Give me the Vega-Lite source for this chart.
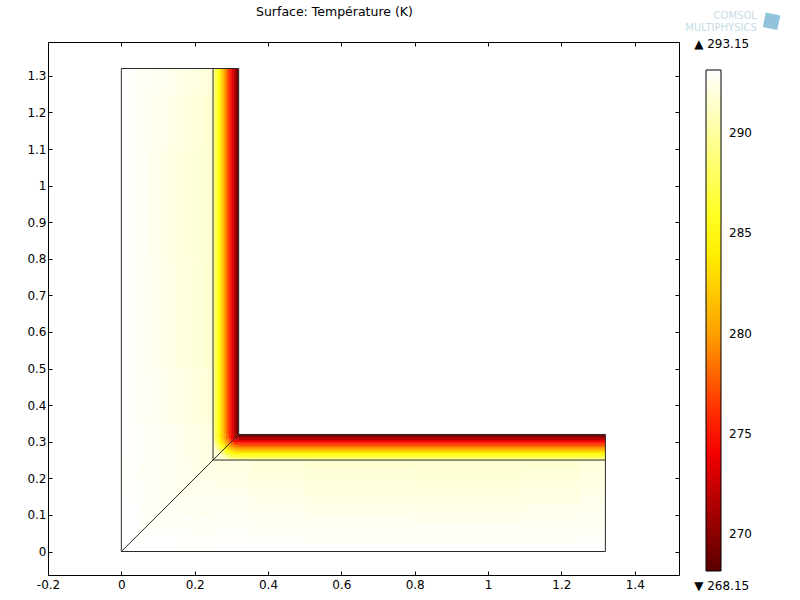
{
"$schema":"https://vega.github.io/schema/vega-lite/v6.json",
"width":631,"height":533,
"autosize":{"type":"none"},
"padding":{"left":48,"top":42,"right":121,"bottom":25},
"background":"white",
"config":{"view":{"stroke":null},"font":"DejaVu Sans","axis":{"grid":false}},
"title":{"text":"Surface: Température (K)","anchor":"start","frame":"group","dx":208,"offset":-7,"fontSize":12.5,"fontWeight":"normal","font":"DejaVu Sans","color":"black"},
"datasets":{
"cells":[
{"x":0,"x2":0.25,"y":0,"y2":1.32,"T":292.6},{"x":0.25,"x2":1.32,"y":0,"y2":0.25,"T":292.6},
{"x":0,"x2":0.05,"y":0,"y2":0.05,"T":293.07},{"x":0.05,"x2":0.1,"y":0,"y2":0.05,"T":293.07},{"x":0.1,"x2":0.15,"y":0,"y2":0.05,"T":293.07},{"x":0.15,"x2":0.2,"y":0,"y2":0.05,"T":293.06},{"x":0.2,"x2":0.25,"y":0,"y2":0.05,"T":293.05},
{"x":0,"x2":0.05,"y":0.05,"y2":0.1,"T":293.07},{"x":0.05,"x2":0.1,"y":0.05,"y2":0.1,"T":292.91},{"x":0.1,"x2":0.15,"y":0.05,"y2":0.1,"T":292.91},{"x":0.15,"x2":0.2,"y":0.05,"y2":0.1,"T":292.89},{"x":0.2,"x2":0.25,"y":0.05,"y2":0.1,"T":292.86},
{"x":0,"x2":0.05,"y":0.1,"y2":0.15,"T":293.07},{"x":0.05,"x2":0.1,"y":0.1,"y2":0.15,"T":292.91},{"x":0.1,"x2":0.15,"y":0.1,"y2":0.15,"T":292.75},{"x":0.15,"x2":0.2,"y":0.1,"y2":0.15,"T":292.71},{"x":0.2,"x2":0.25,"y":0.1,"y2":0.15,"T":292.67},
{"x":0,"x2":0.05,"y":0.15,"y2":0.2,"T":293.06},{"x":0.05,"x2":0.1,"y":0.15,"y2":0.2,"T":292.89},{"x":0.1,"x2":0.15,"y":0.15,"y2":0.2,"T":292.71},{"x":0.15,"x2":0.2,"y":0.15,"y2":0.2,"T":292.53},{"x":0.2,"x2":0.25,"y":0.15,"y2":0.2,"T":292.48},
{"x":0,"x2":0.05,"y":0.2,"y2":0.25,"T":293.05},{"x":0.05,"x2":0.1,"y":0.2,"y2":0.25,"T":292.86},{"x":0.1,"x2":0.15,"y":0.2,"y2":0.25,"T":292.67},{"x":0.15,"x2":0.2,"y":0.2,"y2":0.25,"T":292.48},{"x":0.2,"x2":0.25,"y":0.2,"y2":0.25,"T":292.29},

{"x":0,"x2":0.025,"y":0.25,"y2":0.35,"T":293.10},{"x":0.025,"x2":0.05,"y":0.25,"y2":0.35,"T":293.01},{"x":0.05,"x2":0.075,"y":0.25,"y2":0.35,"T":292.91},{"x":0.075,"x2":0.1,"y":0.25,"y2":0.35,"T":292.81},{"x":0.1,"x2":0.125,"y":0.25,"y2":0.35,"T":292.72},{"x":0.125,"x2":0.15,"y":0.25,"y2":0.35,"T":292.62},{"x":0.15,"x2":0.175,"y":0.25,"y2":0.35,"T":292.53},{"x":0.175,"x2":0.2,"y":0.25,"y2":0.35,"T":292.43},{"x":0.2,"x2":0.225,"y":0.25,"y2":0.35,"T":292.33},{"x":0.225,"x2":0.25,"y":0.25,"y2":0.35,"T":292.24},
{"x":0,"x2":0.025,"y":0.35,"y2":0.5,"T":293.09},{"x":0.025,"x2":0.05,"y":0.35,"y2":0.5,"T":292.96},{"x":0.05,"x2":0.075,"y":0.35,"y2":0.5,"T":292.83},{"x":0.075,"x2":0.1,"y":0.35,"y2":0.5,"T":292.70},{"x":0.1,"x2":0.125,"y":0.35,"y2":0.5,"T":292.57},{"x":0.125,"x2":0.15,"y":0.35,"y2":0.5,"T":292.45},{"x":0.15,"x2":0.175,"y":0.35,"y2":0.5,"T":292.32},{"x":0.175,"x2":0.2,"y":0.35,"y2":0.5,"T":292.19},{"x":0.2,"x2":0.225,"y":0.35,"y2":0.5,"T":292.06},{"x":0.225,"x2":0.25,"y":0.35,"y2":0.5,"T":291.93},
{"x":0,"x2":0.025,"y":0.5,"y2":0.8,"T":293.07},{"x":0.025,"x2":0.05,"y":0.5,"y2":0.8,"T":292.92},{"x":0.05,"x2":0.075,"y":0.5,"y2":0.8,"T":292.76},{"x":0.075,"x2":0.1,"y":0.5,"y2":0.8,"T":292.61},{"x":0.1,"x2":0.125,"y":0.5,"y2":0.8,"T":292.45},{"x":0.125,"x2":0.15,"y":0.5,"y2":0.8,"T":292.30},{"x":0.15,"x2":0.175,"y":0.5,"y2":0.8,"T":292.14},{"x":0.175,"x2":0.2,"y":0.5,"y2":0.8,"T":291.99},{"x":0.2,"x2":0.225,"y":0.5,"y2":0.8,"T":291.83},{"x":0.225,"x2":0.25,"y":0.5,"y2":0.8,"T":291.68},
{"x":0,"x2":0.025,"y":0.8,"y2":1.1,"T":293.07},{"x":0.025,"x2":0.05,"y":0.8,"y2":1.1,"T":292.91},{"x":0.05,"x2":0.075,"y":0.8,"y2":1.1,"T":292.75},{"x":0.075,"x2":0.1,"y":0.8,"y2":1.1,"T":292.59},{"x":0.1,"x2":0.125,"y":0.8,"y2":1.1,"T":292.43},{"x":0.125,"x2":0.15,"y":0.8,"y2":1.1,"T":292.27},{"x":0.15,"x2":0.175,"y":0.8,"y2":1.1,"T":292.11},{"x":0.175,"x2":0.2,"y":0.8,"y2":1.1,"T":291.95},{"x":0.2,"x2":0.225,"y":0.8,"y2":1.1,"T":291.79},{"x":0.225,"x2":0.25,"y":0.8,"y2":1.1,"T":291.63},
{"x":0,"x2":0.025,"y":1.1,"y2":1.25,"T":293.08},{"x":0.025,"x2":0.05,"y":1.1,"y2":1.25,"T":292.93},{"x":0.05,"x2":0.075,"y":1.1,"y2":1.25,"T":292.78},{"x":0.075,"x2":0.1,"y":1.1,"y2":1.25,"T":292.63},{"x":0.1,"x2":0.125,"y":1.1,"y2":1.25,"T":292.49},{"x":0.125,"x2":0.15,"y":1.1,"y2":1.25,"T":292.34},{"x":0.15,"x2":0.175,"y":1.1,"y2":1.25,"T":292.19},{"x":0.175,"x2":0.2,"y":1.1,"y2":1.25,"T":292.05},{"x":0.2,"x2":0.225,"y":1.1,"y2":1.25,"T":291.90},{"x":0.225,"x2":0.25,"y":1.1,"y2":1.25,"T":291.75},
{"x":0,"x2":0.025,"y":1.25,"y2":1.32,"T":293.09},{"x":0.025,"x2":0.05,"y":1.25,"y2":1.32,"T":292.97},{"x":0.05,"x2":0.075,"y":1.25,"y2":1.32,"T":292.85},{"x":0.075,"x2":0.1,"y":1.25,"y2":1.32,"T":292.73},{"x":0.1,"x2":0.125,"y":1.25,"y2":1.32,"T":292.61},{"x":0.125,"x2":0.15,"y":1.25,"y2":1.32,"T":292.49},{"x":0.15,"x2":0.175,"y":1.25,"y2":1.32,"T":292.37},{"x":0.175,"x2":0.2,"y":1.25,"y2":1.32,"T":292.25},{"x":0.2,"x2":0.225,"y":1.25,"y2":1.32,"T":292.13},{"x":0.225,"x2":0.25,"y":1.25,"y2":1.32,"T":292.01},

{"y":0,"y2":0.025,"x":0.25,"x2":0.35,"T":293.10},{"y":0.025,"y2":0.05,"x":0.25,"x2":0.35,"T":293.01},{"y":0.05,"y2":0.075,"x":0.25,"x2":0.35,"T":292.91},{"y":0.075,"y2":0.1,"x":0.25,"x2":0.35,"T":292.81},{"y":0.1,"y2":0.125,"x":0.25,"x2":0.35,"T":292.72},{"y":0.125,"y2":0.15,"x":0.25,"x2":0.35,"T":292.62},{"y":0.15,"y2":0.175,"x":0.25,"x2":0.35,"T":292.53},{"y":0.175,"y2":0.2,"x":0.25,"x2":0.35,"T":292.43},{"y":0.2,"y2":0.225,"x":0.25,"x2":0.35,"T":292.33},{"y":0.225,"y2":0.25,"x":0.25,"x2":0.35,"T":292.24},
{"y":0,"y2":0.025,"x":0.35,"x2":0.5,"T":293.09},{"y":0.025,"y2":0.05,"x":0.35,"x2":0.5,"T":292.96},{"y":0.05,"y2":0.075,"x":0.35,"x2":0.5,"T":292.83},{"y":0.075,"y2":0.1,"x":0.35,"x2":0.5,"T":292.70},{"y":0.1,"y2":0.125,"x":0.35,"x2":0.5,"T":292.57},{"y":0.125,"y2":0.15,"x":0.35,"x2":0.5,"T":292.45},{"y":0.15,"y2":0.175,"x":0.35,"x2":0.5,"T":292.32},{"y":0.175,"y2":0.2,"x":0.35,"x2":0.5,"T":292.19},{"y":0.2,"y2":0.225,"x":0.35,"x2":0.5,"T":292.06},{"y":0.225,"y2":0.25,"x":0.35,"x2":0.5,"T":291.93},
{"y":0,"y2":0.025,"x":0.5,"x2":0.8,"T":293.07},{"y":0.025,"y2":0.05,"x":0.5,"x2":0.8,"T":292.92},{"y":0.05,"y2":0.075,"x":0.5,"x2":0.8,"T":292.76},{"y":0.075,"y2":0.1,"x":0.5,"x2":0.8,"T":292.61},{"y":0.1,"y2":0.125,"x":0.5,"x2":0.8,"T":292.45},{"y":0.125,"y2":0.15,"x":0.5,"x2":0.8,"T":292.30},{"y":0.15,"y2":0.175,"x":0.5,"x2":0.8,"T":292.14},{"y":0.175,"y2":0.2,"x":0.5,"x2":0.8,"T":291.99},{"y":0.2,"y2":0.225,"x":0.5,"x2":0.8,"T":291.83},{"y":0.225,"y2":0.25,"x":0.5,"x2":0.8,"T":291.68},
{"y":0,"y2":0.025,"x":0.8,"x2":1.1,"T":293.07},{"y":0.025,"y2":0.05,"x":0.8,"x2":1.1,"T":292.91},{"y":0.05,"y2":0.075,"x":0.8,"x2":1.1,"T":292.75},{"y":0.075,"y2":0.1,"x":0.8,"x2":1.1,"T":292.59},{"y":0.1,"y2":0.125,"x":0.8,"x2":1.1,"T":292.43},{"y":0.125,"y2":0.15,"x":0.8,"x2":1.1,"T":292.27},{"y":0.15,"y2":0.175,"x":0.8,"x2":1.1,"T":292.11},{"y":0.175,"y2":0.2,"x":0.8,"x2":1.1,"T":291.95},{"y":0.2,"y2":0.225,"x":0.8,"x2":1.1,"T":291.79},{"y":0.225,"y2":0.25,"x":0.8,"x2":1.1,"T":291.63},
{"y":0,"y2":0.025,"x":1.1,"x2":1.25,"T":293.08},{"y":0.025,"y2":0.05,"x":1.1,"x2":1.25,"T":292.93},{"y":0.05,"y2":0.075,"x":1.1,"x2":1.25,"T":292.78},{"y":0.075,"y2":0.1,"x":1.1,"x2":1.25,"T":292.63},{"y":0.1,"y2":0.125,"x":1.1,"x2":1.25,"T":292.49},{"y":0.125,"y2":0.15,"x":1.1,"x2":1.25,"T":292.34},{"y":0.15,"y2":0.175,"x":1.1,"x2":1.25,"T":292.19},{"y":0.175,"y2":0.2,"x":1.1,"x2":1.25,"T":292.05},{"y":0.2,"y2":0.225,"x":1.1,"x2":1.25,"T":291.90},{"y":0.225,"y2":0.25,"x":1.1,"x2":1.25,"T":291.75},
{"y":0,"y2":0.025,"x":1.25,"x2":1.32,"T":293.09},{"y":0.025,"y2":0.05,"x":1.25,"x2":1.32,"T":292.97},{"y":0.05,"y2":0.075,"x":1.25,"x2":1.32,"T":292.85},{"y":0.075,"y2":0.1,"x":1.25,"x2":1.32,"T":292.73},{"y":0.1,"y2":0.125,"x":1.25,"x2":1.32,"T":292.61},{"y":0.125,"y2":0.15,"x":1.25,"x2":1.32,"T":292.49},{"y":0.15,"y2":0.175,"x":1.25,"x2":1.32,"T":292.37},{"y":0.175,"y2":0.2,"x":1.25,"x2":1.32,"T":292.25},{"y":0.2,"y2":0.225,"x":1.25,"x2":1.32,"T":292.13},{"y":0.225,"y2":0.25,"x":1.25,"x2":1.32,"T":292.01},

{"x":0.25,"x2":0.256,"y":0.319,"y2":1.32,"T":289.21},{"x":0.255,"x2":0.261,"y":0.319,"y2":1.32,"T":287.65},{"x":0.26,"x2":0.266,"y":0.319,"y2":1.32,"T":286.09},{"x":0.265,"x2":0.271,"y":0.319,"y2":1.32,"T":284.53},{"x":0.27,"x2":0.276,"y":0.319,"y2":1.32,"T":282.97},{"x":0.275,"x2":0.281,"y":0.319,"y2":1.32,"T":281.41},{"x":0.28,"x2":0.286,"y":0.319,"y2":1.32,"T":279.85},{"x":0.285,"x2":0.291,"y":0.319,"y2":1.32,"T":278.29},{"x":0.29,"x2":0.296,"y":0.319,"y2":1.32,"T":276.73},{"x":0.295,"x2":0.301,"y":0.319,"y2":1.32,"T":275.17},{"x":0.3,"x2":0.306,"y":0.319,"y2":1.32,"T":273.61},{"x":0.305,"x2":0.311,"y":0.319,"y2":1.32,"T":272.05},{"x":0.31,"x2":0.316,"y":0.319,"y2":1.32,"T":270.49},{"x":0.315,"x2":0.32,"y":0.319,"y2":1.32,"T":268.93},

{"y":0.25,"y2":0.256,"x":0.319,"x2":1.32,"T":289.21},{"y":0.255,"y2":0.261,"x":0.319,"x2":1.32,"T":287.65},{"y":0.26,"y2":0.266,"x":0.319,"x2":1.32,"T":286.09},{"y":0.265,"y2":0.271,"x":0.319,"x2":1.32,"T":284.53},{"y":0.27,"y2":0.276,"x":0.319,"x2":1.32,"T":282.97},{"y":0.275,"y2":0.281,"x":0.319,"x2":1.32,"T":281.41},{"y":0.28,"y2":0.286,"x":0.319,"x2":1.32,"T":279.85},{"y":0.285,"y2":0.291,"x":0.319,"x2":1.32,"T":278.29},{"y":0.29,"y2":0.296,"x":0.319,"x2":1.32,"T":276.73},{"y":0.295,"y2":0.301,"x":0.319,"x2":1.32,"T":275.17},{"y":0.3,"y2":0.306,"x":0.319,"x2":1.32,"T":273.61},{"y":0.305,"y2":0.311,"x":0.319,"x2":1.32,"T":272.05},{"y":0.31,"y2":0.316,"x":0.319,"x2":1.32,"T":270.49},{"y":0.315,"y2":0.32,"x":0.319,"x2":1.32,"T":268.93},

{"x":0.25,"x2":0.258,"y":0.25,"y2":0.258,"T":292.0},{"x":0.257,"x2":0.265,"y":0.25,"y2":0.258,"T":291.9},{"x":0.264,"x2":0.272,"y":0.25,"y2":0.258,"T":291.8},{"x":0.271,"x2":0.279,"y":0.25,"y2":0.258,"T":291.6},{"x":0.278,"x2":0.286,"y":0.25,"y2":0.258,"T":291.5},{"x":0.285,"x2":0.293,"y":0.25,"y2":0.258,"T":291.11},{"x":0.292,"x2":0.3,"y":0.25,"y2":0.258,"T":290.26},{"x":0.299,"x2":0.307,"y":0.25,"y2":0.258,"T":289.6},{"x":0.306,"x2":0.314,"y":0.25,"y2":0.258,"T":289.15},{"x":0.313,"x2":0.32,"y":0.25,"y2":0.258,"T":288.93},
{"x":0.25,"x2":0.258,"y":0.257,"y2":0.265,"T":291.9},{"x":0.257,"x2":0.265,"y":0.257,"y2":0.265,"T":291.8},{"x":0.264,"x2":0.272,"y":0.257,"y2":0.265,"T":291.7},{"x":0.271,"x2":0.279,"y":0.257,"y2":0.265,"T":291.5},{"x":0.278,"x2":0.286,"y":0.257,"y2":0.265,"T":290.26},{"x":0.285,"x2":0.293,"y":0.257,"y2":0.265,"T":289.15},{"x":0.292,"x2":0.3,"y":0.257,"y2":0.265,"T":288.23},{"x":0.299,"x2":0.307,"y":0.257,"y2":0.265,"T":287.5},{"x":0.306,"x2":0.314,"y":0.257,"y2":0.265,"T":287.0},{"x":0.313,"x2":0.32,"y":0.257,"y2":0.265,"T":286.75},
{"x":0.25,"x2":0.258,"y":0.264,"y2":0.272,"T":291.8},{"x":0.257,"x2":0.265,"y":0.264,"y2":0.272,"T":291.7},{"x":0.264,"x2":0.272,"y":0.264,"y2":0.272,"T":291.32},{"x":0.271,"x2":0.279,"y":0.264,"y2":0.272,"T":289.83},{"x":0.278,"x2":0.286,"y":0.264,"y2":0.272,"T":288.46},{"x":0.285,"x2":0.293,"y":0.264,"y2":0.272,"T":287.25},{"x":0.292,"x2":0.3,"y":0.264,"y2":0.272,"T":286.23},{"x":0.299,"x2":0.307,"y":0.264,"y2":0.272,"T":285.42},{"x":0.306,"x2":0.314,"y":0.264,"y2":0.272,"T":284.85},{"x":0.313,"x2":0.32,"y":0.264,"y2":0.272,"T":284.57},
{"x":0.25,"x2":0.258,"y":0.271,"y2":0.279,"T":291.6},{"x":0.257,"x2":0.265,"y":0.271,"y2":0.279,"T":291.5},{"x":0.264,"x2":0.272,"y":0.271,"y2":0.279,"T":289.83},{"x":0.271,"x2":0.279,"y":0.271,"y2":0.279,"T":288.23},{"x":0.278,"x2":0.286,"y":0.271,"y2":0.279,"T":286.75},{"x":0.285,"x2":0.293,"y":0.271,"y2":0.279,"T":285.42},{"x":0.292,"x2":0.3,"y":0.271,"y2":0.279,"T":284.27},{"x":0.299,"x2":0.307,"y":0.271,"y2":0.279,"T":283.36},{"x":0.306,"x2":0.314,"y":0.271,"y2":0.279,"T":282.72},{"x":0.313,"x2":0.32,"y":0.271,"y2":0.279,"T":282.39},
{"x":0.25,"x2":0.258,"y":0.278,"y2":0.286,"T":291.5},{"x":0.257,"x2":0.265,"y":0.278,"y2":0.286,"T":290.26},{"x":0.264,"x2":0.272,"y":0.278,"y2":0.286,"T":288.46},{"x":0.271,"x2":0.279,"y":0.278,"y2":0.286,"T":286.75},{"x":0.278,"x2":0.286,"y":0.278,"y2":0.286,"T":285.14},{"x":0.285,"x2":0.293,"y":0.278,"y2":0.286,"T":283.67},{"x":0.292,"x2":0.3,"y":0.278,"y2":0.286,"T":282.39},{"x":0.299,"x2":0.307,"y":0.278,"y2":0.286,"T":281.34},{"x":0.306,"x2":0.314,"y":0.278,"y2":0.286,"T":280.6},{"x":0.313,"x2":0.32,"y":0.278,"y2":0.286,"T":280.21},
{"x":0.25,"x2":0.258,"y":0.285,"y2":0.293,"T":291.11},{"x":0.257,"x2":0.265,"y":0.285,"y2":0.293,"T":289.15},{"x":0.264,"x2":0.272,"y":0.285,"y2":0.293,"T":287.25},{"x":0.271,"x2":0.279,"y":0.285,"y2":0.293,"T":285.42},{"x":0.278,"x2":0.286,"y":0.285,"y2":0.293,"T":283.67},{"x":0.285,"x2":0.293,"y":0.285,"y2":0.293,"T":282.05},{"x":0.292,"x2":0.3,"y":0.285,"y2":0.293,"T":280.6},{"x":0.299,"x2":0.307,"y":0.285,"y2":0.293,"T":279.39},{"x":0.306,"x2":0.314,"y":0.285,"y2":0.293,"T":278.51},{"x":0.313,"x2":0.32,"y":0.285,"y2":0.293,"T":278.04},
{"x":0.25,"x2":0.258,"y":0.292,"y2":0.3,"T":290.26},{"x":0.257,"x2":0.265,"y":0.292,"y2":0.3,"T":288.23},{"x":0.264,"x2":0.272,"y":0.292,"y2":0.3,"T":286.23},{"x":0.271,"x2":0.279,"y":0.292,"y2":0.3,"T":284.27},{"x":0.278,"x2":0.286,"y":0.292,"y2":0.3,"T":282.39},{"x":0.285,"x2":0.293,"y":0.292,"y2":0.3,"T":280.6},{"x":0.292,"x2":0.3,"y":0.292,"y2":0.3,"T":278.96},{"x":0.299,"x2":0.307,"y":0.292,"y2":0.3,"T":277.54},{"x":0.306,"x2":0.314,"y":0.292,"y2":0.3,"T":276.47},{"x":0.313,"x2":0.32,"y":0.292,"y2":0.3,"T":275.87},
{"x":0.25,"x2":0.258,"y":0.299,"y2":0.307,"T":289.6},{"x":0.257,"x2":0.265,"y":0.299,"y2":0.307,"T":287.5},{"x":0.264,"x2":0.272,"y":0.299,"y2":0.307,"T":285.42},{"x":0.271,"x2":0.279,"y":0.299,"y2":0.307,"T":283.36},{"x":0.278,"x2":0.286,"y":0.299,"y2":0.307,"T":281.34},{"x":0.285,"x2":0.293,"y":0.299,"y2":0.307,"T":279.39},{"x":0.292,"x2":0.3,"y":0.299,"y2":0.307,"T":277.54},{"x":0.299,"x2":0.307,"y":0.299,"y2":0.307,"T":275.87},{"x":0.306,"x2":0.314,"y":0.299,"y2":0.307,"T":274.52},{"x":0.313,"x2":0.32,"y":0.299,"y2":0.307,"T":273.72},
{"x":0.25,"x2":0.258,"y":0.306,"y2":0.314,"T":289.15},{"x":0.257,"x2":0.265,"y":0.306,"y2":0.314,"T":287.0},{"x":0.264,"x2":0.272,"y":0.306,"y2":0.314,"T":284.85},{"x":0.271,"x2":0.279,"y":0.306,"y2":0.314,"T":282.72},{"x":0.278,"x2":0.286,"y":0.306,"y2":0.314,"T":280.6},{"x":0.285,"x2":0.293,"y":0.306,"y2":0.314,"T":278.51},{"x":0.292,"x2":0.3,"y":0.306,"y2":0.314,"T":276.47},{"x":0.299,"x2":0.307,"y":0.306,"y2":0.314,"T":274.52},{"x":0.306,"x2":0.314,"y":0.306,"y2":0.314,"T":272.78},{"x":0.313,"x2":0.32,"y":0.306,"y2":0.314,"T":271.6},
{"x":0.25,"x2":0.258,"y":0.313,"y2":0.32,"T":288.93},{"x":0.257,"x2":0.265,"y":0.313,"y2":0.32,"T":286.75},{"x":0.264,"x2":0.272,"y":0.313,"y2":0.32,"T":284.57},{"x":0.271,"x2":0.279,"y":0.313,"y2":0.32,"T":282.39},{"x":0.278,"x2":0.286,"y":0.313,"y2":0.32,"T":280.21},{"x":0.285,"x2":0.293,"y":0.313,"y2":0.32,"T":278.04},{"x":0.292,"x2":0.3,"y":0.313,"y2":0.32,"T":275.87},{"x":0.299,"x2":0.307,"y":0.313,"y2":0.32,"T":273.72},{"x":0.306,"x2":0.314,"y":0.313,"y2":0.32,"T":271.6},{"x":0.313,"x2":0.32,"y":0.313,"y2":0.32,"T":269.69}
],
"edges":[
{"x":0,"y":0,"x2":0,"y2":1.32},{"x":0,"y":1.32,"x2":0.32,"y2":1.32},{"x":0.32,"y":1.32,"x2":0.32,"y2":0.32},{"x":0.32,"y":0.32,"x2":1.32,"y2":0.32},{"x":1.32,"y":0.32,"x2":1.32,"y2":0},{"x":1.32,"y":0,"x2":0,"y2":0},{"x":0.25,"y":0.25,"x2":0.25,"y2":1.32},{"x":0.25,"y":0.25,"x2":1.32,"y2":0.25},{"x":0,"y":0,"x2":0.25,"y2":0.25},{"x":0.25,"y":0.25,"x2":0.32,"y2":0.32}
],
"labels":[
{"x":1.562,"y":1.3875,"label":"▲ 293.15"},
{"x":1.562,"y":-0.093,"label":"▼ 268.15"}
],
"logo":[
{"x":1.733,"y":1.4635,"label":"COMSOL"},
{"x":1.733,"y":1.4307,"label":"MULTIPHYSICS"}
],
"icon":[{"x":1.773,"y":1.449}]
},
"resolve":{"axis":{"x":"independent","y":"independent"},"scale":{"x":"shared","y":"shared"}},
"layer":[
{"data":{"name":"cells"},
 "mark":{"type":"rect","stroke":null},
 "encoding":{
  "x":{"field":"x","type":"quantitative","scale":{"domain":[-0.2,1.5207],"nice":false,"zero":false},
    "axis":{"orient":"bottom","title":null,"values":[-0.2,0,0.2,0.4,0.6,0.8,1,1.2,1.4],"format":"~g","labelExpr":"replace(datum.label, '−', '-')","tickSize":-4,"tickColor":"black","domainColor":"black","labelColor":"black","labelFontSize":12,"labelFont":"DejaVu Sans","labelPadding":8,"grid":false,"labelFlush":false,"labelOverlap":false}},
  "x2":{"field":"x2"},
  "y":{"field":"y","type":"quantitative","scale":{"domain":[-0.0642,1.3925],"nice":false,"zero":false},
    "axis":{"orient":"left","title":null,"values":[0,0.1,0.2,0.3,0.4,0.5,0.6,0.7,0.8,0.9,1,1.1,1.2,1.3],"format":"~g","tickSize":-4,"tickColor":"black","domainColor":"black","labelColor":"black","labelFontSize":12,"labelFont":"DejaVu Sans","labelPadding":6,"grid":false,"labelFlush":false,"labelOverlap":false}},
  "y2":{"field":"y2"},
  "color":{"field":"T","type":"quantitative",
    "scale":{"domain":[268.15,274.5,280,284.8,293.15],"range":["#5a0000","#ff0000","#ffa000","#ffff00","#ffffff"],"interpolate":"rgb","clamp":true},
    "legend":{"type":"gradient","title":null,"orient":"none","legendX":658,"legendY":28,"gradientLength":501,"gradientThickness":15,"gradientStrokeColor":"black","gradientStrokeWidth":1,"values":[270,275,280,285,290],"labelColor":"black","labelFontSize":12,"labelFont":"DejaVu Sans","labelOffset":8,"labelOverlap":false}}
 }},
{"data":{"name":"edges"},
 "mark":{"type":"rule","stroke":"#2b2b2b","strokeWidth":1},
 "encoding":{
  "x":{"field":"x","type":"quantitative","scale":{"domain":[-0.2,1.5207],"nice":false,"zero":false},
    "axis":{"orient":"top","title":null,"values":[-0.2,0,0.2,0.4,0.6,0.8,1,1.2,1.4],"labels":false,"tickSize":-4,"tickColor":"black","domainColor":"black","grid":false}},
  "x2":{"field":"x2"},
  "y":{"field":"y","type":"quantitative","scale":{"domain":[-0.0642,1.3925],"nice":false,"zero":false},
    "axis":{"orient":"right","title":null,"values":[0,0.1,0.2,0.3,0.4,0.5,0.6,0.7,0.8,0.9,1,1.1,1.2,1.3],"labels":false,"tickSize":-4,"tickColor":"black","domainColor":"black","grid":false}},
  "y2":{"field":"y2"}
 }},
{"data":{"name":"labels"},
 "mark":{"type":"text","align":"left","baseline":"middle","fontSize":12,"font":"DejaVu Sans","color":"black"},
 "encoding":{
  "x":{"field":"x","type":"quantitative","axis":null},
  "y":{"field":"y","type":"quantitative","axis":null},
  "text":{"field":"label"}
 }},
{"data":{"name":"logo"},
 "mark":{"type":"text","align":"right","baseline":"middle","fontSize":10,"font":"DejaVu Sans","color":"#c6dbe7"},
 "encoding":{
  "x":{"field":"x","type":"quantitative","axis":null},
  "y":{"field":"y","type":"quantitative","axis":null},
  "text":{"field":"label"}
 }},
{"data":{"name":"icon"},
 "mark":{"type":"point","shape":"square","filled":true,"size":220,"color":"#86bcd8","opacity":0.9,"angle":12},
 "encoding":{
  "x":{"field":"x","type":"quantitative","axis":null},
  "y":{"field":"y","type":"quantitative","axis":null}
 }}
]
}
